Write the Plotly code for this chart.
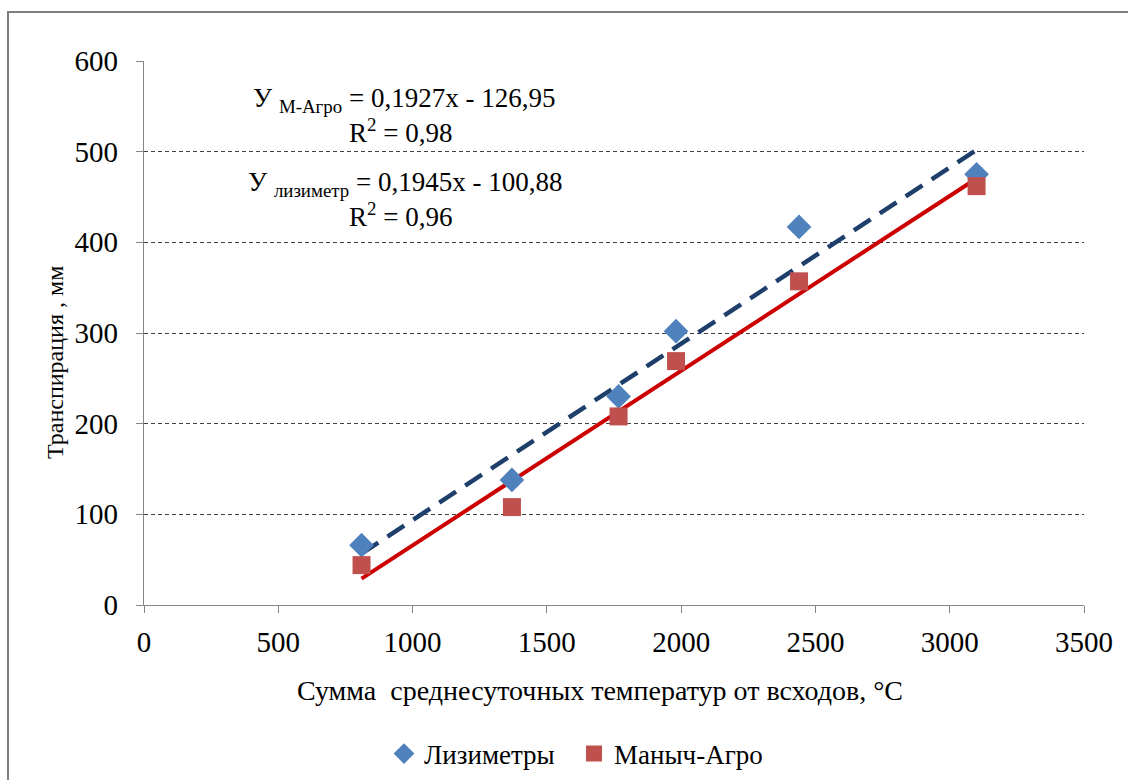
import plotly.graph_objects as go
import numpy as np

# ---- data ----
x_lys = [810, 1370, 1767, 1981, 2439, 3100]
y_lys = [66, 138, 230, 302, 417, 475]
x_agro = [810, 1370, 1767, 1981, 2439, 3100]
y_agro = [44, 108, 208, 269, 357, 462]

lys_slope, lys_icept = 0.1945, -100.88
agro_slope, agro_icept = 0.1927, -126.95

x_ticks = [0, 500, 1000, 1500, 2000, 2500, 3000, 3500]
y_ticks = [0, 100, 200, 300, 400, 500, 600]

name_lys = "Лизиметры"
name_agro = "Маныч-Агро"
x_title = "Сумма\u00a0 среднесуточных температур от всходов, °С"
y_title = "Транспирация , мм"

FONT = "Liberation Serif, Times New Roman, serif"
W, H = 1128, 780
L, R, T, B = 144, 1084, 61, 605


def px(x):
    return (x - L) / (R - L)


def py(y):
    return (B - y) / (B - T)


fig = go.Figure()

# trend lines
xl = np.array([min(x_lys), max(x_lys)])
fig.add_trace(go.Scatter(x=xl, y=lys_slope * xl + lys_icept, mode="lines",
                         line=dict(color="#1F3F6B", width=4.5, dash="20px,11px"),
                         showlegend=False, hoverinfo="skip"))
xa = np.array([min(x_agro), max(x_agro)])
fig.add_trace(go.Scatter(x=xa, y=agro_slope * xa + agro_icept, mode="lines",
                         line=dict(color="#CC0000", width=4),
                         showlegend=False, hoverinfo="skip"))

fig.add_trace(go.Scatter(x=x_lys, y=y_lys, mode="markers", name=name_lys,
                         marker=dict(symbol="diamond", size=19, color="#4F81BD",
                                     line=dict(width=0))))
fig.add_trace(go.Scatter(x=x_agro, y=y_agro, mode="markers", name=name_agro,
                         marker=dict(symbol="square", size=18, color="#C0504D",
                                     line=dict(width=0))))

axis_common = dict(showline=True, linecolor="#868686", linewidth=1.3,
                   ticks="outside", tickcolor="#868686", ticklen=7, tickwidth=1.3,
                   tickfont=dict(family=FONT, size=29, color="#000000"),
                   zeroline=False, automargin=False)

fig.update_xaxes(range=[0, 3500], tickvals=x_ticks, showgrid=False,
                 ticklabelstandoff=4, **axis_common)
fig.update_yaxes(range=[0, 600], tickvals=y_ticks, showgrid=True,
                 gridcolor="#404040", gridwidth=1, griddash="4px,3px",
                 ticklabelstandoff=12, **axis_common)

ann = []
ann.append(dict(text="У <sub>М-Агро</sub> = 0,1927x - 126,95", x=px(404), y=py(100)))
ann.append(dict(text="R<sup>2</sup> = 0,98", x=px(400), y=py(131)))
ann.append(dict(text="У <sub>лизиметр</sub> = 0,1945x - 100,88", x=px(405), y=py(184)))
ann.append(dict(text="R<sup>2</sup> = 0,96", x=px(400), y=py(215)))
annotations = []
for a in ann:
    annotations.append(dict(a, xref="paper", yref="paper", showarrow=False,
                            xanchor="center", yanchor="middle",
                            font=dict(family=FONT, size=27, color="#000000")))
annotations.append(dict(text=x_title, x=px(600), y=py(690), xref="paper", yref="paper",
                        showarrow=False, xanchor="center", yanchor="middle",
                        font=dict(family=FONT, size=28, color="#000000")))
annotations.append(dict(text=y_title, x=px(55), y=py(363), xref="paper", yref="paper",
                        showarrow=False, xanchor="center", yanchor="middle", textangle=-90,
                        font=dict(family=FONT, size=24, color="#000000")))

fig.update_layout(
    width=W, height=H,
    margin=dict(l=L, r=W - R, t=T, b=H - B, pad=0, autoexpand=False),
    paper_bgcolor="white", plot_bgcolor="white",
    font=dict(family=FONT, color="#000000"),
    annotations=annotations,
    showlegend=True,
    legend=dict(orientation="h", x=px(384), y=py(754), xanchor="left", yanchor="middle",
                font=dict(family=FONT, size=27, color="#000000"),
                entrywidth=145, entrywidthmode="pixels",
                bgcolor="rgba(0,0,0,0)", itemclick=False, tracegroupgap=0),
    shapes=[dict(type="rect", xref="paper", yref="paper",
                 x0=px(8), x1=px(1300), y0=py(12), y1=py(900),
                 line=dict(color="#7F7F7F", width=2), fillcolor="rgba(0,0,0,0)",
                 layer="below")],
)

fig.write_html("out.html")
